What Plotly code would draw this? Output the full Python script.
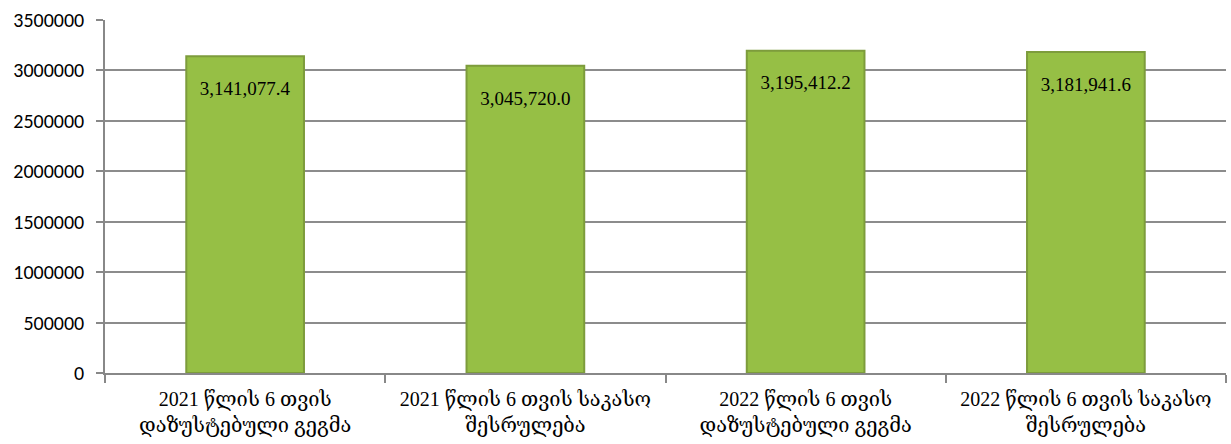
import plotly.graph_objects as go

categories = [
    "2021 წლის 6 თვის<br>დაზუსტებული გეგმა",
    "2021 წლის 6 თვის საკასო<br>შესრულება",
    "2022 წლის 6 თვის<br>დაზუსტებული გეგმა",
    "2022 წლის 6 თვის საკასო<br>შესრულება",
]
values = [3141077.4, 3045720.0, 3195412.2, 3181941.6]
y_ticks = [0, 500000, 1000000, 1500000, 2000000, 2500000, 3000000, 3500000]

serif = "Liberation Serif, DejaVu Serif, serif"
sans = "Carlito, Liberation Sans, DejaVu Sans, sans-serif"

fig = go.Figure()
fig.add_trace(go.Bar(
    x=categories,
    y=values,
    marker=dict(color="#96bf45", line=dict(color="#7d9c3c", width=2)),
    texttemplate="<span style='font-size:12px'>&nbsp;</span><br>%{y:,.1f}",
    textposition="inside",
    insidetextanchor="end",
    textangle=0,
    textfont=dict(family=serif, size=19, color="black"),
    cliponaxis=False,
))

fig.update_layout(
    width=1231,
    height=444,
    margin=dict(l=105, r=5, t=20, b=71),
    paper_bgcolor="white",
    plot_bgcolor="white",
    showlegend=False,
    bargap=0.58,
    uniformtext=dict(minsize=19, mode="show"),
    xaxis=dict(
        tickson="boundaries",
        ticks="outside",
        ticklen=8,
        tickcolor="#888888",
        tickwidth=1.5,
        showline=True,
        linecolor="#888888",
        linewidth=1.5,
        showgrid=False,
        ticklabelstandoff=7,
        tickfont=dict(family=serif, size=20, color="black"),
    ),
    yaxis=dict(
        range=[0, 3500000],
        tickvals=y_ticks,
        ticktext=[str(v) for v in y_ticks],
        ticks="outside",
        ticklen=7,
        tickcolor="#888888",
        tickwidth=1.5,
        showline=True,
        linecolor="#888888",
        linewidth=1.5,
        showgrid=True,
        gridcolor="#8c8c8c",
        gridwidth=1.5,
        zeroline=False,
        ticklabelstandoff=8,
        tickfont=dict(family=sans, size=20, color="black"),
    ),
)

fig.write_html("out.html")
